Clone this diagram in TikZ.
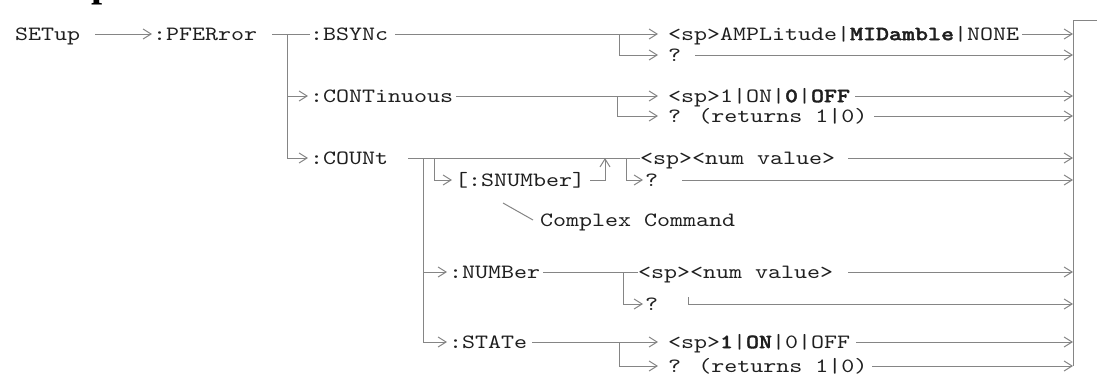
\documentclass[tikz,border=0pt]{standalone}
\usepackage{fontspec}
\newfontfamily\courfont{Latin Modern Mono}[FakeStretch=1.22,BoldFont={Latin Modern Mono Light/B},BoldFeatures={FakeBold=1.5}]
\newfontfamily\headfont{Liberation Serif}
\usetikzlibrary{arrows.meta,calc}
\begin{document}
\begin{tikzpicture}[x=0.5pt,y=-0.5pt,
  txt/.style={anchor=west,inner sep=0pt,outer sep=0pt,
    font=\courfont\fontsize{10.15}{13}\selectfont,text=black!88,
    text height=8.2pt,text depth=2pt},
  ln/.style={draw=black!48,line width=0.5pt},
  ar/.style={ln,-{Straight Barb[length=4pt,width=5pt,line width=0.5pt]}},
]
\def\rowA{34}\def\rowB{55}\def\rowC{96}\def\rowD{116}
\def\rowE{158}\def\rowF{180}\def\rowG{220}\def\rowH{272}
\def\rowI{304}\def\rowJ{342}\def\rowK{366}\def\rowTop{20}
\useasboundingbox (0,0) rectangle (1097,386);
\begin{scope}
\clip (0,0) rectangle (1097,386);
\node[anchor=base west,inner sep=0pt,font=\headfont\bfseries\fontsize{20}{24}\selectfont] (hp) at (91,-4) {p};
\end{scope}
% texts
\node[txt] (setup) at (15,\rowA) {SETup};
\node[txt] (pferr) at (153,\rowA) {:PFERror};
\node[txt] (bsync) at (310,\rowA) {:BSYNc};
\node[txt] (bsp) at (668,\rowA) {<sp>AMPLitude|\textbf{MIDamble}|NONE};
\node[txt] (bq) at (668,\rowB) {?};
\node[txt] (cont) at (310,\rowC) {:CONTinuous};
\node[txt] (csp) at (668,\rowC) {<sp>1|ON|\textbf{0}|\textbf{OFF}};
\node[txt] (cq) at (668,\rowD) {? (returns 1|0)};
\node[txt] (count) at (310,\rowE) {:COUNt};
\node[txt] (nsp) at (640,\rowE) {<sp><num value>};
\node[txt] (snum) at (455,\rowF) {[:SNUMber]};
\node[txt] (nq) at (645,\rowF) {?};
\node[txt] (cplx) at (540,\rowG) {Complex Command};
\node[txt] (numb) at (449,\rowH) {:NUMBer};
\node[txt] (nbsp) at (638,\rowH) {<sp><num value>};
\node[txt] (nbq) at (645,\rowI) {?};
\node[txt] (state) at (449,\rowJ) {:STATe};
\node[txt] (ssp) at (668,\rowJ) {<sp>\textbf{1}|\textbf{ON}|0|OFF};
\node[txt] (sq) at (668,\rowK) {? (returns 1|0)};
% coordinates
\coordinate (rtop) at (1073,\rowTop);
\coordinate (rbot) at (1073,\rowK);
\coordinate (redge) at (1097,\rowTop);
\coordinate (va) at (287,\rowA);
\coordinate (ba) at (619,\rowA);
\coordinate (ca) at (617,\rowC);
\coordinate (vc) at (423,\rowE);
\coordinate (vs) at (434,\rowE);
\coordinate (su) at (605,\rowE);
\coordinate (vq) at (626,\rowE);
\coordinate (na) at (623,\rowH);
\coordinate (sa) at (619,\rowJ);
% right bar
\draw[ln] (redge) -- (rtop) -- (rbot);
% SETup -> PFERror
\draw[ar] ($(setup.east)+(15,0)$) -- ($(pferr.west)+(-1,0)$);
\draw[ln] ($(pferr.east)+(15,0)$) -- (bsync.west);
\draw[ar] (va) |- ($(cont.west)+(-2,0)$);
\draw[ar] (va) |- ($(count.west)+(-2,0)$);
% BSYNc
\draw[ar] ($(bsync.east)+(7,0)$) -- ($(bsp.west)+(-10,0)$);
\draw[ar] (ba) |- ($(bq.west)+(-10,0)$);
\draw[ar] ($(bsp.east)+(3,0)$) -- (bsp.east -| rtop);
\draw[ar] ($(bq.east)+(14,0)$) -- (bq.east -| rtop);
% CONTinuous
\draw[ar] ($(cont.east)+(3,0)$) -- ($(csp.west)+(-10,0)$);
\draw[ar] (ca) |- ($(cq.west)+(-10,0)$);
\draw[ar] ($(csp.east)+(5,0)$) -- (csp.east -| rtop);
\draw[ar] ($(cq.east)+(7,0)$) -- (cq.east -| rtop);
% COUNt
\draw[ln] ($(count.east)+(20,0)$) -- (nsp.west);
\draw[ln] (vc) -- (vc |- state.west);
\draw[ar] (vs) |- ($(snum.west)+(-3,0)$);
\draw[ar] ($(snum.east)+(5,0)$) -| (su);
\draw[ar] (vq) |- ($(nq.west)+(-2,0)$);
\draw[ar] ($(nsp.east)+(13,0)$) -- (nsp.east -| rtop);
\draw[ar] ($(nq.east)+(24,0)$) -- (nq.east -| rtop);
\draw[ln] ($(cplx.west)+(-37,-17)$) -- ($(cplx.west)+(-7,0)$);
% NUMBer
\draw[ar] (vc |- numb.west) -- ($(numb.west)+(-2,0)$);
\draw[ln] ($(numb.east)+(3,0)$) -- (nbsp.west);
\draw[ar] (na) |- ($(nbq.west)+(-2,0)$);
\draw[ar] ($(nbsp.east)+(15,0)$) -- (nbsp.east -| rtop);
\draw[ar] ($(nbq.east)+(30,-7)$) -- ($(nbq.east)+(30,0)$) -- (nbq.east -| rtop);
% STATe
\draw[ar] (vc |- state.west) -- ($(state.west)+(-2,0)$);
\draw[ar] ($(state.east)+(5,0)$) -- ($(ssp.west)+(-10,0)$);
\draw[ar] (sa) |- ($(sq.west)+(-10,0)$);
\draw[ar] ($(ssp.east)+(6,0)$) -- (ssp.east -| rtop);
\draw[ar] ($(sq.east)+(5,0)$) -- (sq.east -| rtop);
\end{tikzpicture}
\end{document}
